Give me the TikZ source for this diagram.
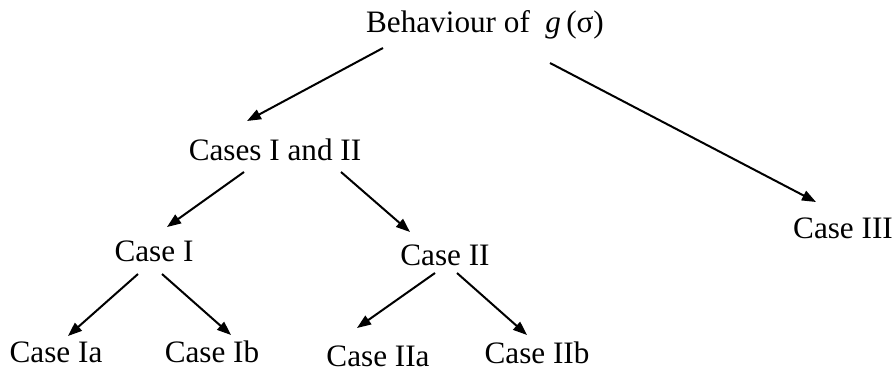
\documentclass[tikz,border=0pt]{standalone}
\usepackage{fontspec}
\setmainfont{Liberation Serif}
\usetikzlibrary{arrows.meta, calc}

\begin{document}
\begin{tikzpicture}[
    x=0.5pt, y=-0.5pt,
    >={Triangle[length=7pt, width=5.2pt]},
    case/.style={anchor=base, inner sep=0pt, font=\fontsize{15.6}{18}\selectfont},
    arrow/.style={->, line width=1pt}
]
\useasboundingbox (0, 0) rectangle (895, 374);

% === Top ===
\node[case] (beh) at (485, 33) {Behaviour of \ \textit{g}\,(σ)};

% === Second level ===
\node[case] (cases12) at (275, 161) {Cases I and II};
\node[case] (case3) at (843, 238) {Case III};

% === Third level ===
\node[case] (case1) at (154, 262) {Case I};
\node[case] (case2) at (445, 265) {Case II};

% === Bottom level ===
\node[case] (case1a) at (56, 362) {Case Ia};
\node[case] (case1b) at (212, 362) {Case Ib};
\node[case] (case2a) at (378, 366) {Case IIa};
\node[case] (case2b) at (537, 363) {Case IIb};

% Arrows
\draw[arrow] ($(beh.base)+(-102,15)$) -- ($(cases12.base)+(-28,-40)$);
\draw[arrow] ($(beh.base)+(65,30)$) -- ($(case3.base)+(-27,-36)$);
\draw[arrow] ($(cases12.base)+(-31,11)$) -- ($(case1.base)+(13,-35)$);
\draw[arrow] ($(cases12.base)+(66,11)$) -- ($(case2.base)+(-35,-33)$);
\draw[arrow] ($(case1.base)+(-16,12)$) -- ($(case1a.base)+(12,-26)$);
\draw[arrow] ($(case1.base)+(8,12)$) -- ($(case1b.base)+(19,-27)$);
\draw[arrow] ($(case2.base)+(-10,8)$) -- ($(case2a.base)+(-21,-38)$);
\draw[arrow] ($(case2.base)+(12,8)$) -- ($(case2b.base)+(-10,-28)$);

\end{tikzpicture}
\end{document}
